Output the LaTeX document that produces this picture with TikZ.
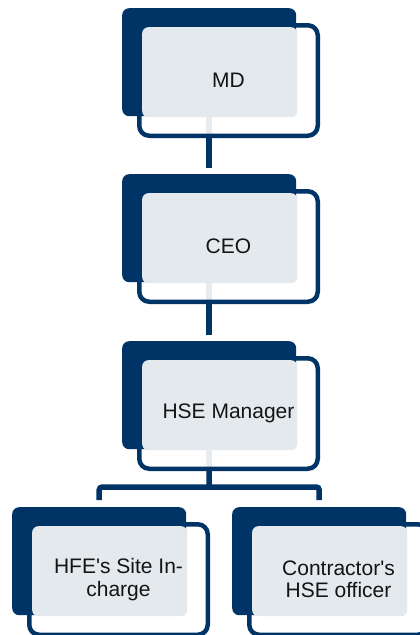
\documentclass[tikz,border=0pt]{standalone}
\usepackage{fontspec}
\setmainfont{Liberation Sans}
\usetikzlibrary{calc, backgrounds}
\definecolor{orgNavy}{RGB}{0,51,102}
\definecolor{orgPale}{RGB}{228,233,238}
\tikzset{
  backbox/.style={fill=orgNavy, rounded corners=7pt, inner sep=0pt,
                  minimum width=174pt, minimum height=108pt, anchor=north west},
  framebox/.style={draw=orgNavy, line width=4.5pt, fill=white, fill opacity=0.9,
                   rounded corners=10pt, inner sep=0pt,
                   minimum width=178.5pt, minimum height=110.5pt},
  palebox/.style={fill=orgPale, rounded corners=6pt, inner sep=0pt,
                  minimum width=155pt, minimum height=90pt, anchor=north west},
  cardtext/.style={font=\fontsize{21}{22.5}\selectfont, align=center,
                   text=black!92, inner sep=0pt},
  link/.style={draw=orgNavy, line width=5.5pt}
}
\newcommand{\orgcard}[3]{%
  % #1 = node name, #2 = top left of the dark card, #3 = label
  \begin{scope}[shift={#2}]
    \node[framebox] (#1) at (106.5,72.5) {};
    \node[backbox] (#1-back) at (0,0) {};
    \node[palebox] (#1-face) at (20,19) {};
    \node[cardtext] (#1-text) at (#1.center) {#3};
  \end{scope}
}

\begin{document}
\begin{tikzpicture}[x=1pt, y=-1pt]
\useasboundingbox (0,0) rectangle (420,635);
\clip (0,0) rectangle (420,635);

% --- cards -----------------------------------------------------------------
\orgcard{md}{(122,8)}{MD}
\orgcard{ceo}{(122,174)}{CEO}
\orgcard{hse}{(122,341)}{HSE Manager}
\orgcard{site}{(12,507)}{HFE\textquotesingle s Site In-\\charge}
\orgcard{contr}{(232,507)}{Contractor\textquotesingle s\\HSE officer}

% --- reporting lines -------------------------------------------------------
\coordinate (fork) at (209,487);
\begin{scope}[on background layer]
  \draw[link] (md-back.center) -- ([yshift=6pt]ceo-back.north);
  \draw[link] (ceo-back.center) -- ([yshift=6pt]hse-back.north);
  \draw[link] (hse-back.center) -- (fork);
  \draw[link, rounded corners=3pt]
    ([yshift=7pt]site-back.north) |- (fork) -| ([yshift=7pt]contr-back.north);
\end{scope}

\end{tikzpicture}
\end{document}
